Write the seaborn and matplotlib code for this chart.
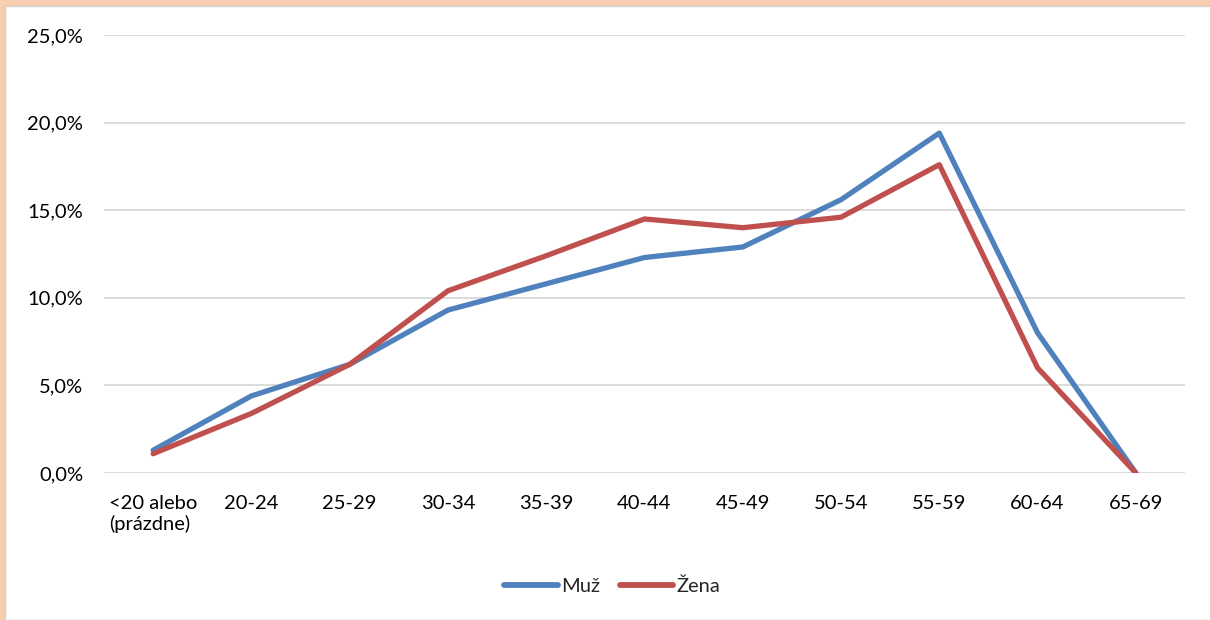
import matplotlib.pyplot as plt
import matplotlib.patches as mpatches
import pandas as pd
import seaborn as sns
from matplotlib.ticker import FuncFormatter

vekove_skupiny = ['<20 alebo\n(prázdne)', '20-24', '25-29', '30-34', '35-39', '40-44',
                  '45-49', '50-54', '55-59', '60-64', '65-69']
muz = [1.3, 4.4, 6.2, 9.3, 10.8, 12.3, 12.9, 15.6, 19.4, 8.0, 0.0]
zena = [1.1, 3.4, 6.2, 10.4, 12.4, 14.5, 14.0, 14.6, 17.6, 6.0, 0.0]

df = pd.DataFrame({
    'skupina': vekove_skupiny * 2,
    'podiel': muz + zena,
    'pohlavie': ['Muž'] * len(muz) + ['Žena'] * len(zena),
})

sns.set_style('white')
plt.rcParams['font.family'] = ['Lato', 'DejaVu Sans']

fig = plt.figure(figsize=(12.1, 6.2), dpi=100)
# okraj zo screenshotu
fig.patches.append(mpatches.Rectangle((0, 0), 1, 1, transform=fig.transFigure,
                                      facecolor='#F9CDB0', edgecolor='none', zorder=-2))
fig.patches.append(mpatches.Rectangle((5 / 1210, 0), 1, 1 - 6 / 620, transform=fig.transFigure,
                                      facecolor='white', edgecolor='#D0D0D0', lw=1, zorder=-1))

ax = fig.add_axes([104 / 1210, 147 / 620, (1185 - 104) / 1210, 438 / 620])
ax.set_facecolor('none')
sns.lineplot(data=df, x='skupina', y='podiel', hue='pohlavie',
             palette={'Muž': '#4F81BD', 'Žena': '#C0504D'}, linewidth=3.8,
             ax=ax, legend=True)
for ln in ax.lines:
    ln.set_solid_joinstyle('round')
    ln.set_solid_capstyle('round')

ax.set_xlim(-0.5, len(vekove_skupiny) - 0.5)
ax.set_ylim(0, 25)
ax.set_yticks([0, 5, 10, 15, 20, 25])
ax.yaxis.set_major_formatter(FuncFormatter(lambda v, p: f'{v:.1f}%'.replace('.', ',')))
ax.grid(axis='y', color='#D9D9D9', linewidth=1.3)
ax.set_axisbelow(True)
for s in ax.spines.values():
    s.set_visible(False)
ax.tick_params(axis='both', length=0, labelsize=14.5, colors='black')
ax.tick_params(axis='y', pad=15)
ax.tick_params(axis='x', pad=16)
for lbl in ax.get_xticklabels():
    lbl.set_horizontalalignment('center')
    lbl.set_multialignment('left')
ax.set_xlabel('')
ax.set_ylabel('')

handles, labels = ax.get_legend_handles_labels()
leg = ax.legend(handles, labels, loc='center', bbox_to_anchor=(0.47, -0.258), ncol=2,
                frameon=False, fontsize=14.5, handlelength=2.65, handletextpad=0.15,
                columnspacing=1.0)
for h in leg.get_lines():
    h.set_solid_capstyle('round')
    h.set_linewidth(4.2)

fig.savefig('out.png', dpi=100)
